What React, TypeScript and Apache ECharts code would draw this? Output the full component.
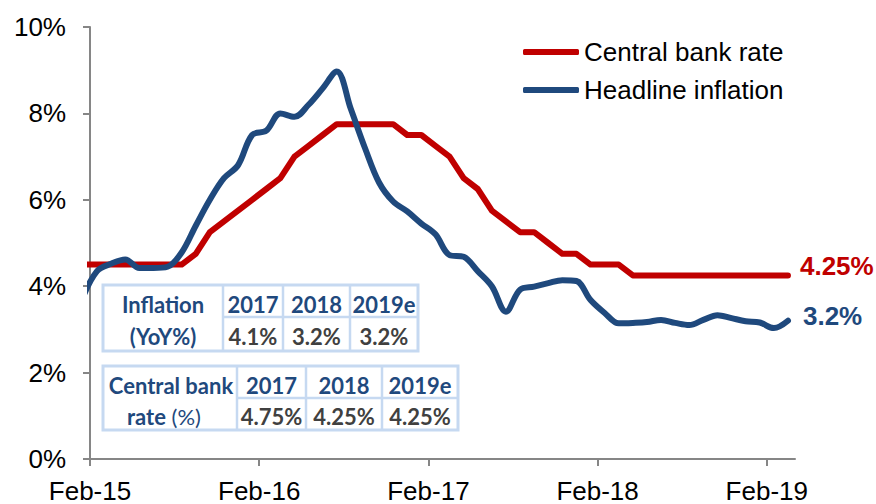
import React, { useEffect, useRef } from 'react';
import * as echarts from 'echarts';

// Monthly observations from Jan-15 (offset -1) to Mar-19 (offset 49), plotted at mid-month
const firstMonthOffset = -1;
const rateValues: number[] = [
  4.5, 4.5, 4.5, 4.5, 4.5, 4.5, 4.5, 4.5,
  4.75, 5.25, 5.5, 5.75, 6.0, 6.25, 6.5, 7.0, 7.25, 7.5, 7.75, 7.75, 7.75, 7.75, 7.75,
  7.5, 7.5, 7.25, 7.0, 6.5, 6.25, 5.75, 5.5, 5.25, 5.25, 5.0, 4.75, 4.75, 4.5, 4.5, 4.5,
  4.25, 4.25, 4.25, 4.25, 4.25, 4.25, 4.25, 4.25, 4.25, 4.25, 4.25, 4.25,
];
const inflationValues: number[] = [
  3.75, 4.35, 4.52, 4.62, 4.42, 4.42, 4.45, 4.78, 5.4, 6.0, 6.5, 6.8, 7.5, 7.6, 8.0, 7.92,
  8.2, 8.58, 8.97, 8.1, 7.2, 6.4, 5.96, 5.73, 5.45, 5.2, 4.72, 4.68, 4.35, 4.0, 3.41, 3.92,
  3.99, 4.07, 4.14, 4.12, 3.68, 3.38, 3.14, 3.15, 3.17, 3.22, 3.15, 3.1, 3.22, 3.33, 3.26,
  3.19, 3.16, 3.03, 3.2,
];
const seriesNames = ['Central bank rate', 'Headline inflation'];
const xTickMonths = [0, 12, 24, 36, 48];
const xTickLabels = ['Feb-15', 'Feb-16', 'Feb-17', 'Feb-18', 'Feb-19'];
const tableYears = ['2017', '2018', '2019e'];
const inflationTableValues = ['4.1%', '3.2%', '3.2%'];
const rateTableValues = ['4.75%', '4.25%', '4.25%'];

const RED = '#C00000';
const BLUE = '#1F497D';
const AXIS = '#868686';
const BORDER = '#C6D9F1';
const TBL_BLUE = '#1F497D';
const TBL_GRAY = '#404040';
const FONT = '"Liberation Sans", Arial, sans-serif';
const TFONT = 'Lato, "Noto Sans", sans-serif';

function toPairs(values: number[]) {
  return values.map((v, k) => [k + firstMonthOffset + 0.5, v]);
}

function txt(x: number, y: number, text: string, color: string, weight = 'bold') {
  return {
    type: 'text',
    x,
    y,
    z: 110,
    style: {
      text,
      fill: color,
      fontSize: 22,
      fontWeight: weight,
      fontFamily: TFONT,
      align: 'center',
      verticalAlign: 'middle',
      textAlign: 'center',
      textVerticalAlign: 'middle',
    },
  };
}

function buildTable(
  cols: number[],
  y0: number,
  yMid: number,
  y1: number,
  labelTop: any,
  labelBottom: any,
  values: string[],
) {
  const els: any[] = [];
  els.push({
    type: 'rect',
    z: 100,
    shape: { x: cols[0], y: y0, width: cols[cols.length - 1] - cols[0], height: y1 - y0 },
    style: { fill: '#ffffff', stroke: BORDER, lineWidth: 3 },
  });
  for (let c = 1; c < cols.length - 1; c++) {
    els.push({
      type: 'line',
      z: 101,
      shape: { x1: cols[c], y1: y0, x2: cols[c], y2: y1 },
      style: { stroke: BORDER, lineWidth: 2.5 },
    });
  }
  els.push({
    type: 'line',
    z: 101,
    shape: { x1: cols[1], y1: yMid, x2: cols[cols.length - 1], y2: yMid },
    style: { stroke: BORDER, lineWidth: 2.5 },
  });
  const rTop = (y0 + yMid) / 2 + 3;
  const rBot = (yMid + y1) / 2 + 2;
  for (let c = 1; c < cols.length; c++) {
    const cx = (cols[c - 1 + 1] + cols[c]) / 2;
  }
  for (let k = 0; k < tableYears.length; k++) {
    const cx = (cols[k + 1] + cols[k + 2]) / 2;
    els.push(txt(cx, rTop, tableYears[k], TBL_BLUE));
    els.push(txt(cx, rBot, values[k], TBL_GRAY));
  }
  els.push(labelTop(rTop));
  els.push(labelBottom(rBot));
  return els;
}

const table1 = buildTable(
  [103, 223, 283, 350, 418],
  285,
  317,
  351,
  (y: number) => txt(163, y, 'Inflation', TBL_BLUE),
  (y: number) => txt(163, y, '(YoY%)', TBL_BLUE),
  inflationTableValues,
);
const table2 = buildTable(
  [103, 237, 306, 382, 458],
  366,
  398,
  430,
  (y: number) => txt(171, y, 'Central bank', TBL_BLUE),
  (y: number) => ({
    type: 'text',
    x: 164,
    y,
    z: 110,
    style: {
      text: '{a|rate} {b|(%)}',
      align: 'center',
      verticalAlign: 'middle',
      textAlign: 'center',
      textVerticalAlign: 'middle',
      fontSize: 22,
      fontFamily: TFONT,
      rich: {
        a: { fontSize: 22, fontFamily: TFONT, fontWeight: 'bold', fill: TBL_BLUE, color: TBL_BLUE },
        b: { fontSize: 22, fontFamily: TFONT, fontWeight: 'normal', fill: TBL_BLUE, color: TBL_BLUE },
      },
    },
  }),
  rateTableValues,
);

export default function App() {
  const ref = useRef<HTMLDivElement>(null);
  useEffect(() => {
    if (!ref.current) return;
    const chart = echarts.init(ref.current, undefined, { renderer: 'svg' });
    const option: any = {
      animation: false,
      backgroundColor: '#ffffff',
      grid: { left: 90, right: 81, top: 27, bottom: 43, containLabel: false },
      legend: {
        orient: 'vertical',
        left: 523,
        top: 39,
        padding: 0,
        itemGap: 12,
        itemWidth: 56,
        itemHeight: 6,
        icon: 'roundRect',
        data: seriesNames,
        textStyle: { fontSize: 26, color: '#000', fontFamily: FONT },
      },
      xAxis: {
        type: 'value',
        min: 0,
        max: 50,
        interval: 12,
        splitLine: { show: false },
        axisLine: { show: true, onZero: false, lineStyle: { color: AXIS, width: 2 } },
        axisTick: { show: true, length: 7, customValues: xTickMonths, lineStyle: { color: AXIS, width: 2 } },
        axisLabel: {
          customValues: xTickMonths,
          formatter: (v: number) => {
            const k = xTickMonths.indexOf(Math.round(v));
            return k >= 0 ? xTickLabels[k] : '';
          },
          fontSize: 26,
          color: '#000',
          fontFamily: FONT,
          margin: 19,
        },
      },
      yAxis: {
        type: 'value',
        min: 0,
        max: 10,
        interval: 2,
        splitLine: { show: false },
        axisLine: { show: true, onZero: false, lineStyle: { color: AXIS, width: 2 } },
        axisTick: { show: true, length: 7, lineStyle: { color: AXIS, width: 2 } },
        axisLabel: {
          formatter: '{value}%',
          fontSize: 26,
          color: '#000',
          fontFamily: FONT,
          margin: 24,
        },
      },
      series: [
        {
          name: seriesNames[0],
          type: 'line',
          data: toPairs(rateValues),
          showSymbol: false,
          symbol: 'none',
          clip: true,
          color: RED,
          lineStyle: { color: RED, width: 6, cap: 'round', join: 'round' },
          endLabel: {
            show: true,
            formatter: (p: any) => `${p.value[1]}%`,
            color: RED,
            fontSize: 26,
            fontWeight: 'bold',
            fontFamily: FONT,
            distance: 5,
            offset: [7, -9],
          },
          z: 2,
        },
        {
          name: seriesNames[1],
          type: 'line',
          data: toPairs(inflationValues),
          showSymbol: false,
          symbol: 'none',
          smooth: 0.35,
          clip: true,
          color: BLUE,
          lineStyle: { color: BLUE, width: 6, cap: 'round', join: 'round' },
          endLabel: {
            show: true,
            formatter: (p: any) => `${p.value[1]}%`,
            color: BLUE,
            fontSize: 26,
            fontWeight: 'bold',
            fontFamily: FONT,
            distance: 5,
            offset: [10, -5],
          },
          z: 3,
        },
      ],
      graphic: [...table1, ...table2],
    };
    chart.setOption(option);
    return () => chart.dispose();
  }, []);
  return (
    <div
      ref={ref}
      style={{ position: 'absolute', left: 0, top: 0, width: 876, height: 504, background: '#fff' }}
    />
  );
}
